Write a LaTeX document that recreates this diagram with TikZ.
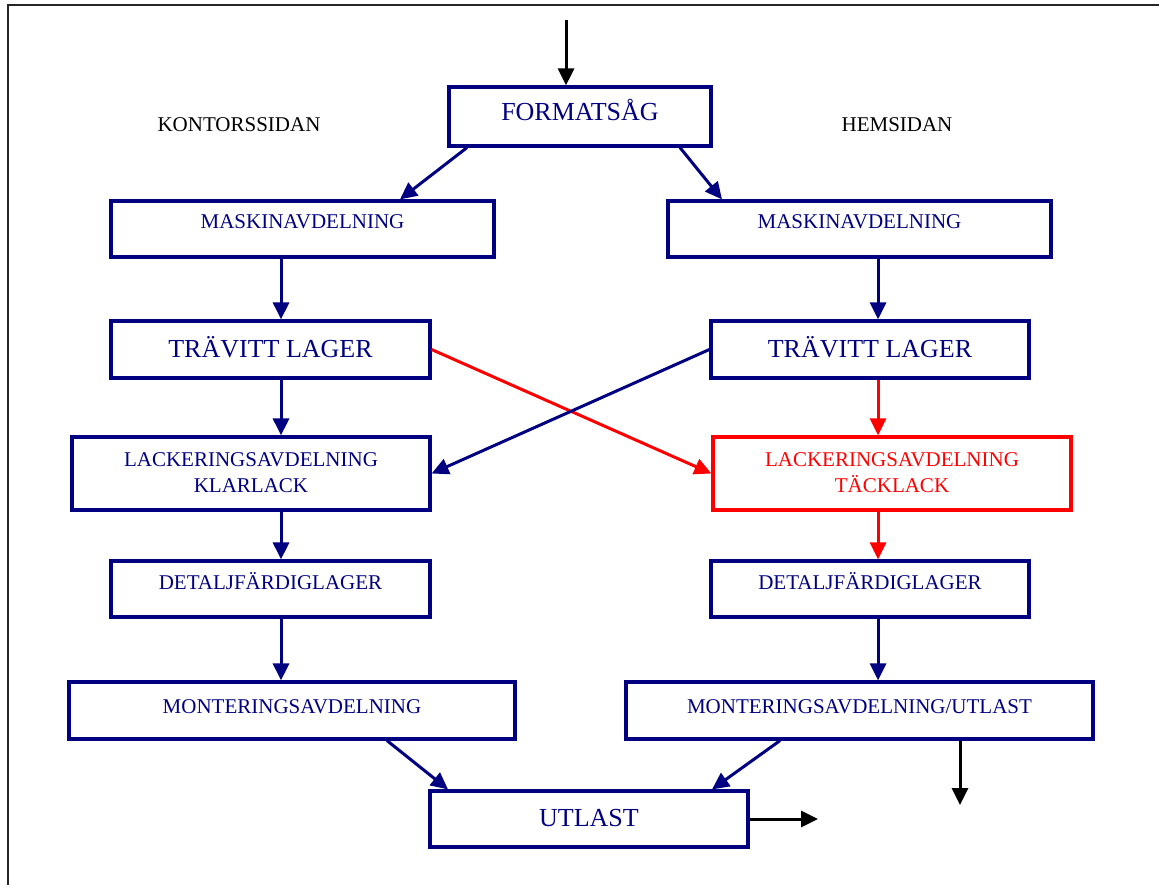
\documentclass[tikz,border=0pt]{standalone}
\usepackage{fontspec}
\setmainfont{Liberation Serif}
\usetikzlibrary{arrows.meta}
\definecolor{navy}{RGB}{0,0,128}
\definecolor{flowred}{RGB}{255,0,0}
\begin{document}
\begin{tikzpicture}[x=1pt,y=-1pt,
  nbox/.style={draw=navy,line width=3.2pt,rectangle,inner sep=0pt},
  rbox/.style={draw=flowred,line width=3.2pt,rectangle,inner sep=0pt},
  big/.style={text=navy,anchor=base,inner sep=0pt,font=\fontsize{26}{30}\selectfont},
  small/.style={text=navy,anchor=base,inner sep=0pt,font=\fontsize{21}{25}\selectfont},
  side/.style={text=black,anchor=base,inner sep=0pt,font=\fontsize{21}{25}\selectfont},
  tipshape/.style={-{Triangle[length=17pt,width=16pt]}},
  arr/.style={tipshape,draw=navy,line width=3pt},
  rarr/.style={tipshape,draw=flowred,line width=3pt},
  karr/.style={tipshape,draw=black,line width=3pt}]
\useasboundingbox (0,0) rectangle (1159,885);
\fill[white] (0,0) rectangle (1159,885);
% page frame
\draw[line width=2.6pt,black!85] (8,885) -- (8,5) -- (1159,5);

% process boxes
\node[nbox,minimum width=262pt,minimum height=59pt] (fs)  at (580,116.5) {};
\node[nbox,minimum width=383pt,minimum height=56pt] (mkl) at (302.5,229) {};
\node[nbox,minimum width=383pt,minimum height=56pt] (mkr) at (859.5,229) {};
\node[nbox,minimum width=319pt,minimum height=57pt] (tvl) at (270.5,349.5) {};
\node[nbox,minimum width=318pt,minimum height=57pt] (tvr) at (870,349.5) {};
\node[nbox,minimum width=358pt,minimum height=73pt] (lkl) at (251,473.5) {};
\node[rbox,minimum width=358pt,minimum height=73pt] (lkr) at (892,473.5) {};
\node[nbox,minimum width=319pt,minimum height=56pt] (dfl) at (270.5,589) {};
\node[nbox,minimum width=318pt,minimum height=56pt] (dfr) at (870,589) {};
\node[nbox,minimum width=446pt,minimum height=57pt] (mol) at (292,710.5) {};
\node[nbox,minimum width=467pt,minimum height=57pt] (mor) at (859.5,710.5) {};
\node[nbox,minimum width=318pt,minimum height=56pt] (ut)  at (589,819) {};

% box texts
\node[big]   (t-fs)  at (580,121) {FORMATSÅG};
\node[side]  (t-ks)  at (239,132) {KONTORSSIDAN};
\node[side]  (t-hs)  at (897,132) {HEMSIDAN};
\node[small] (t-mkl) at (302.5,229) {MASKINAVDELNING};
\node[small] (t-mkr) at (859.5,229) {MASKINAVDELNING};
\node[big]   (t-tvl) at (270.5,357) {TRÄVITT LAGER};
\node[big]   (t-tvr) at (870,357) {TRÄVITT LAGER};
\node[small] (t-lkl1) at (251,466) {LACKERINGSAVDELNING};
\node[small] (t-lkl2) at (251,492) {KLARLACK};
\node[small,text=flowred] (t-lkr1) at (892,466) {LACKERINGSAVDELNING};
\node[small,text=flowred] (t-lkr2) at (892,492) {TÄCKLACK};
\node[small] (t-dfl) at (270.5,589) {DETALJFÄRDIGLAGER};
\node[small] (t-dfr) at (870,589) {DETALJFÄRDIGLAGER};
\node[small] (t-mol) at (292,713) {MONTERINGSAVDELNING};
\node[small] (t-mor) at (859.5,713) {MONTERINGSAVDELNING/UTLAST};
\node[big]   (t-ut)  at (589,826) {UTLAST};

% column lines and free ends
\coordinate (colL) at (281,0);
\coordinate (colR) at (878,0);
\coordinate (inT)  at (566,20);
\coordinate (outE) at (818,0);
\coordinate (outS) at (960,805);

% connectors
\draw[karr] (inT) -- (fs.north -| inT);
\draw[arr] ([xshift=-113pt]fs.south) -- ([xshift=97.5pt]mkl.north);
\draw[arr] ([xshift=100pt]fs.south) -- ([xshift=-137.5pt]mkr.north);
\draw[arr] (mkl.south -| colL) -- (tvl.north -| colL);
\draw[arr] (mkr.south -| colR) -- (tvr.north -| colR);
\draw[arr] (tvl.south -| colL) -- (lkl.north -| colL);
\draw[rarr] (tvl.east) -- (lkr.west);
\draw[arr] (tvr.west) -- (lkl.east);
\draw[rarr] (tvr.south -| colR) -- (lkr.north -| colR);
\draw[arr] (lkl.south -| colL) -- (dfl.north -| colL);
\draw[rarr] (lkr.south -| colR) -- (dfr.north -| colR);
\draw[arr] (dfl.south -| colL) -- (mol.north -| colL);
\draw[arr] (dfr.south -| colR) -- (mor.north -| colR);
\draw[arr] ([xshift=95pt]mol.south) -- ([xshift=-141pt]ut.north);
\draw[arr] ([xshift=-79.5pt]mor.south) -- ([xshift=123pt]ut.north);
\draw[karr] (ut.east) -- (ut.east -| outE);
\draw[karr] (mor.south -| outS) -- (outS);
\end{tikzpicture}
\end{document}
